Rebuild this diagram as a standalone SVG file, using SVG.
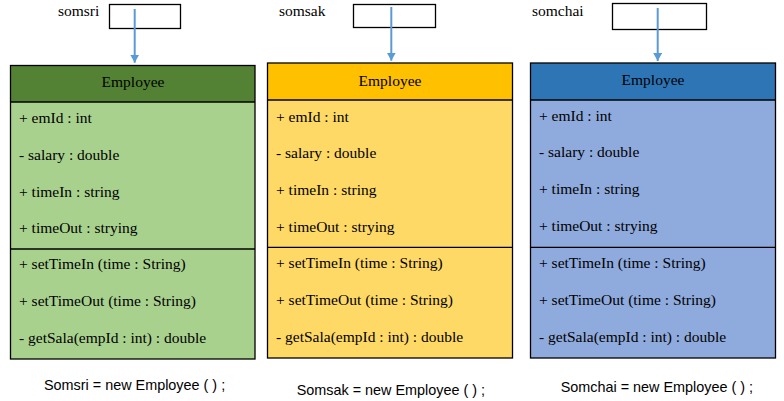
<svg xmlns="http://www.w3.org/2000/svg" width="784" height="401" viewBox="0 0 784 401">
<style>
  .serif { font-family: "Liberation Serif", "Times New Roman", serif; font-size: 15.5px; fill: #000; }
  .sans { font-family: "Liberation Sans", Arial, sans-serif; font-size: 14.4px; fill: #000; }
  .mid { text-anchor: middle; }
  .frame { stroke: #000; stroke-width: 1.3; }
  .ref { fill: #fff; stroke: #000; stroke-width: 1.3; }
  .arrow { stroke: #5B9BD5; stroke-width: 2; fill: none; }
</style>
<defs>
  <marker id="ah" viewBox="0 0 8 9" refX="8" refY="4.5" markerWidth="8" markerHeight="9" markerUnits="userSpaceOnUse" orient="auto">
    <path d="M0,0 L8,4.5 L0,9 Z" fill="#5B9BD5"/>
  </marker>
</defs>
<rect width="784" height="401" fill="#fff"/>

<g id="ref-somsri">
  <text class="serif" x="58" y="16">somsri</text>
  <rect class="ref" x="109.5" y="4.5" width="71" height="24"/>
</g>
<g id="ref-somsak">
  <text class="serif" x="279" y="15.7">somsak</text>
  <rect class="ref" x="353.5" y="4.5" width="82" height="23"/>
</g>
<g id="ref-somchai">
  <text class="serif" x="532" y="15.7">somchai</text>
  <rect class="ref" x="612.5" y="3.5" width="94" height="26"/>
</g>

<g id="employee-green">
  <rect x="10.5" y="65.5" width="244.5" height="293.5" fill="#A9D18E"/>
  <rect x="10.5" y="65.5" width="244.5" height="36.5" fill="#548235"/>
  <rect class="frame" x="10.5" y="65.5" width="244.5" height="293.5" fill="none"/>
  <line class="frame" x1="10.5" y1="102" x2="255" y2="102"/>
  <line class="frame" x1="10.5" y1="249" x2="255" y2="249"/>
  <text class="serif mid" x="133" y="87.3">Employee</text>
  <text class="serif" x="19" y="123.3">+ emId : int</text>
  <text class="serif" x="19" y="160">- salary : double</text>
  <text class="serif" x="19" y="196.7">+ timeIn : string</text>
  <text class="serif" x="19" y="233.3">+ timeOut : strying</text>
  <text class="serif" x="19" y="269.3">+ setTimeIn (time : String)</text>
  <text class="serif" x="19" y="306">+ setTimeOut (time : String)</text>
  <text class="serif" x="19" y="342.7">- getSala(empId : int) : double</text>
</g>

<g id="employee-yellow">
  <rect x="267.5" y="63" width="245" height="295" fill="#FFD966"/>
  <rect x="267.5" y="63" width="245" height="37" fill="#FFC000"/>
  <rect class="frame" x="267.5" y="63" width="245" height="295" fill="none"/>
  <line class="frame" x1="267.5" y1="100" x2="512.5" y2="100"/>
  <line class="frame" x1="267.5" y1="247.3" x2="512.5" y2="247.3"/>
  <text class="serif mid" x="390" y="85.7">Employee</text>
  <text class="serif" x="276" y="121.7">+ emId : int</text>
  <text class="serif" x="276" y="158.3">- salary : double</text>
  <text class="serif" x="276" y="195">+ timeIn : string</text>
  <text class="serif" x="276" y="231.7">+ timeOut : strying</text>
  <text class="serif" x="276" y="268.3">+ setTimeIn (time : String)</text>
  <text class="serif" x="276" y="305">+ setTimeOut (time : String)</text>
  <text class="serif" x="276" y="341.7">- getSala(empId : int) : double</text>
</g>

<g id="employee-blue">
  <rect x="530.5" y="63" width="245" height="295" fill="#8FAADC"/>
  <rect x="530.5" y="63" width="245" height="37" fill="#2E75B6"/>
  <rect class="frame" x="530.5" y="63" width="245" height="295" fill="none"/>
  <line class="frame" x1="530.5" y1="100" x2="775.5" y2="100"/>
  <line class="frame" x1="530.5" y1="247.3" x2="775.5" y2="247.3"/>
  <text class="serif mid" x="653" y="85">Employee</text>
  <text class="serif" x="539" y="120.7">+ emId : int</text>
  <text class="serif" x="539" y="157.3">- salary : double</text>
  <text class="serif" x="539" y="194">+ timeIn : string</text>
  <text class="serif" x="539" y="230.7">+ timeOut : strying</text>
  <text class="serif" x="539" y="268.3">+ setTimeIn (time : String)</text>
  <text class="serif" x="539" y="305">+ setTimeOut (time : String)</text>
  <text class="serif" x="539" y="341.7">- getSala(empId : int) : double</text>
</g>

<g id="connectors">
  <line class="arrow" x1="134.7" y1="9" x2="134.7" y2="62.7" marker-end="url(#ah)"/>
  <line class="arrow" x1="391.3" y1="7" x2="391.3" y2="60.7" marker-end="url(#ah)"/>
  <line class="arrow" x1="657.7" y1="8" x2="657.7" y2="61" marker-end="url(#ah)"/>
</g>

<g id="captions">
  <text class="sans" x="44" y="390">Somsri = new Employee ( ) ;</text>
  <text class="sans" x="296.7" y="395">Somsak = new Employee ( ) ;</text>
  <text class="sans" x="560.7" y="391.7">Somchai = new Employee ( ) ;</text>
</g>
</svg>
